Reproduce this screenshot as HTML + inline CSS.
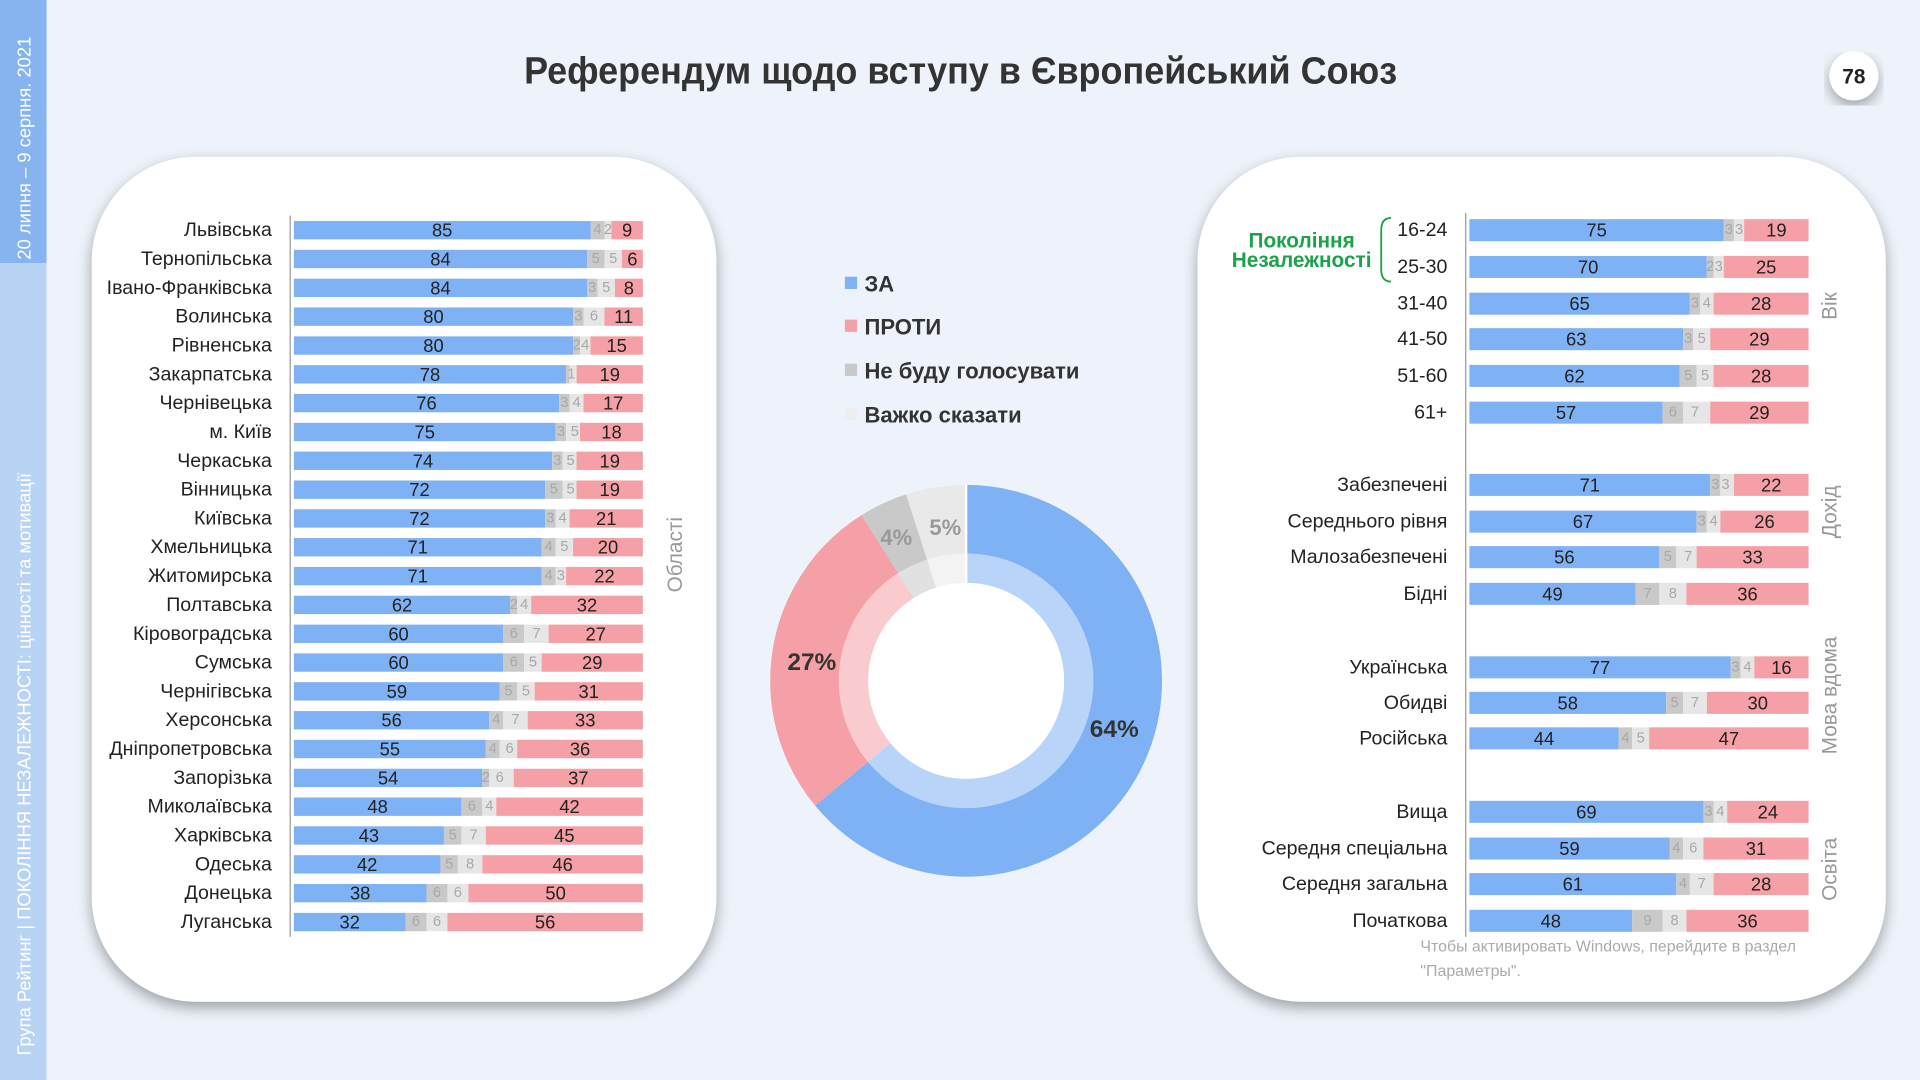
<!DOCTYPE html>
<html><head><meta charset="utf-8">
<style>
html,body{margin:0;padding:0;background:#eef3fb;}
svg{display:block;font-family:"Liberation Sans Narrow","Liberation Sans",sans-serif;}
.b{fill:#7fb2f5}.g{fill:#c9c9c9}.l{fill:#e6e6e6}.r{fill:#f5a0a6}
.L rect{y:-7.5px;height:15px}
.R rect{y:-9px;height:18px}
.t{font-size:15px;fill:#222;text-anchor:middle}
.s{font-size:12px;fill:#a8a8a8;text-anchor:middle}
.n{font-size:16px;fill:#222;text-anchor:end}
.L text{dominant-baseline:central}
.R text{dominant-baseline:central}
.v{font-size:17px;fill:#999;}
.lg{font-size:18px;font-weight:bold;fill:#333;font-family:"Liberation Sans",sans-serif}
</style></head><body>
<svg width="1920" height="1080" viewBox="0 0 1568 882" xmlns="http://www.w3.org/2000/svg">
<defs><filter id="sh" x="-10%" y="-10%" width="120%" height="120%"><feGaussianBlur in="SourceAlpha" stdDeviation="6"/><feOffset dx="0" dy="5"/><feComponentTransfer><feFuncA type="linear" slope="0.35"/></feComponentTransfer><feMerge><feMergeNode/><feMergeNode in="SourceGraphic"/></feMerge></filter></defs>
<rect width="1568" height="882" fill="#eef3fb"/>
<rect x="0" y="0" width="38" height="215" fill="#86b4ee"/>
<rect x="0" y="215" width="38" height="667" fill="#b9d3f4"/>
<text transform="translate(25,212) rotate(-90)" font-size="15" fill="#fff">20 липня – 9 серпня. 2021</text>
<text transform="translate(25,862) rotate(-90)" font-size="15" fill="#fff">Група Рейтинг | ПОКОЛІННЯ НЕЗАЛЕЖНОСТІ: цінності та мотивації</text>
<text x="428" y="68" textLength="713" lengthAdjust="spacingAndGlyphs" font-size="31" font-weight="bold" fill="#333">Референдум щодо вступу в Європейський Союз</text>
<circle cx="1514" cy="62" r="20" fill="#fff" filter="url(#sh)"/>
<text x="1514" y="68" text-anchor="middle" font-size="17" font-weight="bold" fill="#222" font-family="Liberation Sans">78</text>

<rect x="75" y="128" width="510" height="690" rx="85" fill="#fff" filter="url(#sh)"/>
<rect x="978" y="128" width="562" height="690" rx="85" fill="#fff" filter="url(#sh)"/>

<line x1="237" y1="176" x2="237" y2="765" stroke="#999" stroke-width="1"/>
<text transform="translate(557,453) rotate(-90)" class="v" text-anchor="middle">Області</text>

<svg x="240" y="0" width="285" height="882" overflow="visible" class="L">
<g transform="translate(0,188)"><rect width="85%" class="b"/><rect x="85%" width="4%" class="g"/><rect x="89%" width="2%" class="l"/><rect x="91%" width="9%" class="r"/><text x="42.5%" class="t">85</text><text x="87%" class="s">4</text><text x="90%" class="s">2</text><text x="95.5%" class="t">9</text><text x="-18" class="n">Львівська</text></g>
<g transform="translate(0,211.5)"><rect width="84%" class="b"/><rect x="84%" width="5%" class="g"/><rect x="89%" width="5%" class="l"/><rect x="94%" width="6%" class="r"/><text x="42%" class="t">84</text><text x="86.5%" class="s">5</text><text x="91.5%" class="s">5</text><text x="97%" class="t">6</text><text x="-18" class="n">Тернопільська</text></g>
<g transform="translate(0,235.1)"><rect width="84%" class="b"/><rect x="84%" width="3%" class="g"/><rect x="87%" width="5%" class="l"/><rect x="92%" width="8%" class="r"/><text x="42%" class="t">84</text><text x="85.5%" class="s">3</text><text x="89.5%" class="s">5</text><text x="96%" class="t">8</text><text x="-18" class="n">Івано-Франківська</text></g>
<g transform="translate(0,258.6)"><rect width="80%" class="b"/><rect x="80%" width="3%" class="g"/><rect x="83%" width="6%" class="l"/><rect x="89%" width="11%" class="r"/><text x="40%" class="t">80</text><text x="81.5%" class="s">3</text><text x="86%" class="s">6</text><text x="94.5%" class="t">11</text><text x="-18" class="n">Волинська</text></g>
<g transform="translate(0,282.2)"><rect width="80%" class="b"/><rect x="80%" width="2%" class="g"/><rect x="82%" width="4%" class="l"/><rect x="85%" width="15%" class="r"/><text x="40%" class="t">80</text><text x="81%" class="s">2</text><text x="83.5%" class="s">4</text><text x="92.5%" class="t">15</text><text x="-18" class="n">Рівненська</text></g>
<g transform="translate(0,305.7)"><rect width="78%" class="b"/><rect x="78%" width="1%" class="g"/><rect x="79%" width="2%" class="l"/><rect x="81%" width="19%" class="r"/><text x="39%" class="t">78</text><text x="79.5%" class="s">1</text><text x="90.5%" class="t">19</text><text x="-18" class="n">Закарпатська</text></g>
<g transform="translate(0,329.2)"><rect width="76%" class="b"/><rect x="76%" width="3%" class="g"/><rect x="79%" width="4%" class="l"/><rect x="83%" width="17%" class="r"/><text x="38%" class="t">76</text><text x="77.5%" class="s">3</text><text x="81%" class="s">4</text><text x="91.5%" class="t">17</text><text x="-18" class="n">Чернівецька</text></g>
<g transform="translate(0,352.8)"><rect width="75%" class="b"/><rect x="75%" width="3%" class="g"/><rect x="78%" width="5%" class="l"/><rect x="82%" width="18%" class="r"/><text x="37.5%" class="t">75</text><text x="76.5%" class="s">3</text><text x="80.5%" class="s">5</text><text x="91%" class="t">18</text><text x="-18" class="n">м. Київ</text></g>
<g transform="translate(0,376.3)"><rect width="74%" class="b"/><rect x="74%" width="3%" class="g"/><rect x="77%" width="5%" class="l"/><rect x="81%" width="19%" class="r"/><text x="37%" class="t">74</text><text x="75.5%" class="s">3</text><text x="79.3%" class="s">5</text><text x="90.5%" class="t">19</text><text x="-18" class="n">Черкаська</text></g>
<g transform="translate(0,399.9)"><rect width="72%" class="b"/><rect x="72%" width="5%" class="g"/><rect x="77%" width="5%" class="l"/><rect x="81%" width="19%" class="r"/><text x="36%" class="t">72</text><text x="74.5%" class="s">5</text><text x="79.3%" class="s">5</text><text x="90.5%" class="t">19</text><text x="-18" class="n">Вінницька</text></g>
<g transform="translate(0,423.4)"><rect width="72%" class="b"/><rect x="72%" width="3%" class="g"/><rect x="75%" width="4%" class="l"/><rect x="79%" width="21%" class="r"/><text x="36%" class="t">72</text><text x="73.5%" class="s">3</text><text x="77%" class="s">4</text><text x="89.5%" class="t">21</text><text x="-18" class="n">Київська</text></g>
<g transform="translate(0,446.9)"><rect width="71%" class="b"/><rect x="71%" width="4%" class="g"/><rect x="75%" width="5%" class="l"/><rect x="80%" width="20%" class="r"/><text x="35.5%" class="t">71</text><text x="73%" class="s">4</text><text x="77.5%" class="s">5</text><text x="90%" class="t">20</text><text x="-18" class="n">Хмельницька</text></g>
<g transform="translate(0,470.5)"><rect width="71%" class="b"/><rect x="71%" width="4%" class="g"/><rect x="75%" width="3%" class="l"/><rect x="78%" width="22%" class="r"/><text x="35.5%" class="t">71</text><text x="73%" class="s">4</text><text x="76.5%" class="s">3</text><text x="89%" class="t">22</text><text x="-18" class="n">Житомирська</text></g>
<g transform="translate(0,494)"><rect width="62%" class="b"/><rect x="62%" width="2%" class="g"/><rect x="64%" width="4%" class="l"/><rect x="68%" width="32%" class="r"/><text x="31%" class="t">62</text><text x="63%" class="s">2</text><text x="66%" class="s">4</text><text x="84%" class="t">32</text><text x="-18" class="n">Полтавська</text></g>
<g transform="translate(0,517.6)"><rect width="60%" class="b"/><rect x="60%" width="6%" class="g"/><rect x="66%" width="7%" class="l"/><rect x="73%" width="27%" class="r"/><text x="30%" class="t">60</text><text x="63%" class="s">6</text><text x="69.5%" class="s">7</text><text x="86.5%" class="t">27</text><text x="-18" class="n">Кіровоградська</text></g>
<g transform="translate(0,541.1)"><rect width="60%" class="b"/><rect x="60%" width="6%" class="g"/><rect x="66%" width="5%" class="l"/><rect x="71%" width="29%" class="r"/><text x="30%" class="t">60</text><text x="63%" class="s">6</text><text x="68.5%" class="s">5</text><text x="85.5%" class="t">29</text><text x="-18" class="n">Сумська</text></g>
<g transform="translate(0,564.6)"><rect width="59%" class="b"/><rect x="59%" width="5%" class="g"/><rect x="64%" width="5%" class="l"/><rect x="69%" width="31%" class="r"/><text x="29.5%" class="t">59</text><text x="61.5%" class="s">5</text><text x="66.5%" class="s">5</text><text x="84.5%" class="t">31</text><text x="-18" class="n">Чернігівська</text></g>
<g transform="translate(0,588.2)"><rect width="56%" class="b"/><rect x="56%" width="4%" class="g"/><rect x="60%" width="7%" class="l"/><rect x="67%" width="33%" class="r"/><text x="28%" class="t">56</text><text x="58%" class="s">4</text><text x="63.5%" class="s">7</text><text x="83.5%" class="t">33</text><text x="-18" class="n">Херсонська</text></g>
<g transform="translate(0,611.7)"><rect width="55%" class="b"/><rect x="55%" width="4%" class="g"/><rect x="59%" width="6%" class="l"/><rect x="64%" width="36%" class="r"/><text x="27.5%" class="t">55</text><text x="57%" class="s">4</text><text x="61.8%" class="s">6</text><text x="82%" class="t">36</text><text x="-18" class="n">Дніпропетровська</text></g>
<g transform="translate(0,635.3)"><rect width="54%" class="b"/><rect x="54%" width="2%" class="g"/><rect x="56%" width="7%" class="l"/><rect x="63%" width="37%" class="r"/><text x="27%" class="t">54</text><text x="55%" class="s">2</text><text x="59%" class="s">6</text><text x="81.5%" class="t">37</text><text x="-18" class="n">Запорізька</text></g>
<g transform="translate(0,658.8)"><rect width="48%" class="b"/><rect x="48%" width="6%" class="g"/><rect x="54%" width="4%" class="l"/><rect x="58%" width="42%" class="r"/><text x="24%" class="t">48</text><text x="51%" class="s">6</text><text x="56%" class="s">4</text><text x="79%" class="t">42</text><text x="-18" class="n">Миколаївська</text></g>
<g transform="translate(0,682.3)"><rect width="43%" class="b"/><rect x="43%" width="5%" class="g"/><rect x="48%" width="7%" class="l"/><rect x="55%" width="45%" class="r"/><text x="21.5%" class="t">43</text><text x="45.5%" class="s">5</text><text x="51.5%" class="s">7</text><text x="77.5%" class="t">45</text><text x="-18" class="n">Харківська</text></g>
<g transform="translate(0,705.9)"><rect width="42%" class="b"/><rect x="42%" width="5%" class="g"/><rect x="47%" width="7%" class="l"/><rect x="54%" width="46%" class="r"/><text x="21%" class="t">42</text><text x="44.5%" class="s">5</text><text x="50.5%" class="s">8</text><text x="77%" class="t">46</text><text x="-18" class="n">Одеська</text></g>
<g transform="translate(0,729.4)"><rect width="38%" class="b"/><rect x="38%" width="6%" class="g"/><rect x="44%" width="6%" class="l"/><rect x="50%" width="50%" class="r"/><text x="19%" class="t">38</text><text x="41%" class="s">6</text><text x="47%" class="s">6</text><text x="75%" class="t">50</text><text x="-18" class="n">Донецька</text></g>
<g transform="translate(0,753)"><rect width="32%" class="b"/><rect x="32%" width="6%" class="g"/><rect x="38%" width="6%" class="l"/><rect x="44%" width="56%" class="r"/><text x="16%" class="t">32</text><text x="35%" class="s">6</text><text x="41%" class="s">6</text><text x="72%" class="t">56</text><text x="-18" class="n">Луганська</text></g>
</svg>

<rect x="690" y="226" width="10" height="10" class="b"/><text x="706" y="238" class="lg">ЗА</text>
<rect x="690" y="261" width="10" height="10" class="r"/><text x="706" y="273" class="lg">ПРОТИ</text>
<rect x="690" y="297" width="10" height="10" class="g"/><text x="706" y="309" class="lg">Не буду голосувати</text>
<rect x="690" y="333" width="10" height="10" fill="#eee"/><text x="706" y="345" class="lg">Важко сказати</text>

<g transform="rotate(-90 789 556)" fill="none" stroke-width="80">
<circle cx="789" cy="556" r="120" stroke="#7fb2f5" stroke-dasharray="482.5 1000"/>
<circle cx="789" cy="556" r="120" stroke="#f5a0a6" stroke-dasharray="203.6 1000" stroke-dashoffset="-482.5"/>
<circle cx="789" cy="556" r="120" stroke="#c9c9c9" stroke-dasharray="30.2 1000" stroke-dashoffset="-686.1"/>
<circle cx="789" cy="556" r="120" stroke="#e9e9e9" stroke-dasharray="37.7 1000" stroke-dashoffset="-716.3"/>
</g>
<circle cx="789" cy="556" r="104" fill="#fff" opacity="0.45"/>
<circle cx="789" cy="556" r="80" fill="#fff"/>
<line x1="789" y1="396" x2="789" y2="476" stroke="#fff" stroke-width="2"/>
<text x="910" y="602" font-size="20" font-weight="bold" fill="#333" text-anchor="middle">64%</text>
<text x="663" y="547" font-size="20" font-weight="bold" fill="#333" text-anchor="middle">27%</text>
<text x="732" y="445" font-size="18" font-weight="bold" fill="#999" text-anchor="middle">4%</text>
<text x="772" y="437" font-size="18" font-weight="bold" fill="#999" text-anchor="middle">5%</text>

<line x1="1197" y1="174" x2="1197" y2="765" stroke="#999" stroke-width="1"/>
<text x="1063" y="202" font-size="17" font-weight="bold" fill="#1aa34a" text-anchor="middle">Покоління</text>
<text x="1063" y="218" font-size="17" font-weight="bold" fill="#1aa34a" text-anchor="middle">Незалежності</text>
<path d="M1136 178 Q1128 178 1128 188 L1128 220 Q1128 230 1136 230" fill="none" stroke="#1aa34a" stroke-width="1.5"/>
<text transform="translate(1500,250) rotate(-90)" class="v" text-anchor="middle">Вік</text>
<text transform="translate(1500,418) rotate(-90)" class="v" text-anchor="middle">Дохід</text>
<text transform="translate(1500,568) rotate(-90)" class="v" text-anchor="middle">Мова вдома</text>
<text transform="translate(1500,710) rotate(-90)" class="v" text-anchor="middle">Освіта</text>

<svg x="1200" y="0" width="277" height="882" overflow="visible" class="R">
<g transform="translate(0,188)"><rect width="75%" class="b"/><rect x="75%" width="3%" class="g"/><rect x="78%" width="3%" class="l"/><rect x="81%" width="19%" class="r"/><text x="37.5%" class="t">75</text><text x="76.5%" class="s">3</text><text x="79.5%" class="s">3</text><text x="90.5%" class="t">19</text><text x="-18" class="n">16-24</text></g>
<g transform="translate(0,218)"><rect width="70%" class="b"/><rect x="70%" width="2%" class="g"/><rect x="72%" width="3%" class="l"/><rect x="75%" width="25%" class="r"/><text x="35%" class="t">70</text><text x="71%" class="s">2</text><text x="73.5%" class="s">3</text><text x="87.5%" class="t">25</text><text x="-18" class="n">25-30</text></g>
<g transform="translate(0,248)"><rect width="65%" class="b"/><rect x="65%" width="3%" class="g"/><rect x="68%" width="4%" class="l"/><rect x="72%" width="28%" class="r"/><text x="32.5%" class="t">65</text><text x="66.5%" class="s">3</text><text x="70%" class="s">4</text><text x="86%" class="t">28</text><text x="-18" class="n">31-40</text></g>
<g transform="translate(0,277)"><rect width="63%" class="b"/><rect x="63%" width="3%" class="g"/><rect x="66%" width="5%" class="l"/><rect x="71%" width="29%" class="r"/><text x="31.5%" class="t">63</text><text x="64.5%" class="s">3</text><text x="68.5%" class="s">5</text><text x="85.5%" class="t">29</text><text x="-18" class="n">41-50</text></g>
<g transform="translate(0,307)"><rect width="62%" class="b"/><rect x="62%" width="5%" class="g"/><rect x="67%" width="5%" class="l"/><rect x="72%" width="28%" class="r"/><text x="31%" class="t">62</text><text x="64.5%" class="s">5</text><text x="69.5%" class="s">5</text><text x="86%" class="t">28</text><text x="-18" class="n">51-60</text></g>
<g transform="translate(0,337)"><rect width="57%" class="b"/><rect x="57%" width="6%" class="g"/><rect x="63%" width="8%" class="l"/><rect x="71%" width="29%" class="r"/><text x="28.5%" class="t">57</text><text x="60%" class="s">6</text><text x="66.5%" class="s">7</text><text x="85.5%" class="t">29</text><text x="-18" class="n">61+</text></g>
<g transform="translate(0,396)"><rect width="71%" class="b"/><rect x="71%" width="3%" class="g"/><rect x="74%" width="4%" class="l"/><rect x="78%" width="22%" class="r"/><text x="35.5%" class="t">71</text><text x="72.5%" class="s">3</text><text x="75.5%" class="s">3</text><text x="89%" class="t">22</text><text x="-18" class="n">Забезпечені</text></g>
<g transform="translate(0,426)"><rect width="67%" class="b"/><rect x="67%" width="3%" class="g"/><rect x="70%" width="4%" class="l"/><rect x="74%" width="26%" class="r"/><text x="33.5%" class="t">67</text><text x="68.5%" class="s">3</text><text x="72%" class="s">4</text><text x="87%" class="t">26</text><text x="-18" class="n">Середнього рівня</text></g>
<g transform="translate(0,455)"><rect width="56%" class="b"/><rect x="56%" width="5%" class="g"/><rect x="61%" width="7%" class="l"/><rect x="67%" width="33%" class="r"/><text x="28%" class="t">56</text><text x="58.5%" class="s">5</text><text x="64.5%" class="s">7</text><text x="83.5%" class="t">33</text><text x="-18" class="n">Малозабезпечені</text></g>
<g transform="translate(0,485)"><rect width="49%" class="b"/><rect x="49%" width="7%" class="g"/><rect x="56%" width="8%" class="l"/><rect x="64%" width="36%" class="r"/><text x="24.5%" class="t">49</text><text x="52.5%" class="s">7</text><text x="60%" class="s">8</text><text x="82%" class="t">36</text><text x="-18" class="n">Бідні</text></g>
<g transform="translate(0,545)"><rect width="77%" class="b"/><rect x="77%" width="3%" class="g"/><rect x="80%" width="4%" class="l"/><rect x="84%" width="16%" class="r"/><text x="38.5%" class="t">77</text><text x="78.5%" class="s">3</text><text x="82%" class="s">4</text><text x="92%" class="t">16</text><text x="-18" class="n">Українська</text></g>
<g transform="translate(0,574)"><rect width="58%" class="b"/><rect x="58%" width="5%" class="g"/><rect x="63%" width="7%" class="l"/><rect x="70%" width="30%" class="r"/><text x="29%" class="t">58</text><text x="60.5%" class="s">5</text><text x="66.5%" class="s">7</text><text x="85%" class="t">30</text><text x="-18" class="n">Обидві</text></g>
<g transform="translate(0,603)"><rect width="44%" class="b"/><rect x="44%" width="4%" class="g"/><rect x="48%" width="5%" class="l"/><rect x="53%" width="47%" class="r"/><text x="22%" class="t">44</text><text x="46%" class="s">4</text><text x="50.5%" class="s">5</text><text x="76.5%" class="t">47</text><text x="-18" class="n">Російська</text></g>
<g transform="translate(0,663)"><rect width="69%" class="b"/><rect x="69%" width="3%" class="g"/><rect x="72%" width="4%" class="l"/><rect x="76%" width="24%" class="r"/><text x="34.5%" class="t">69</text><text x="70.5%" class="s">3</text><text x="74%" class="s">4</text><text x="88%" class="t">24</text><text x="-18" class="n">Вища</text></g>
<g transform="translate(0,693)"><rect width="59%" class="b"/><rect x="59%" width="4%" class="g"/><rect x="63%" width="6%" class="l"/><rect x="69%" width="31%" class="r"/><text x="29.5%" class="t">59</text><text x="61%" class="s">4</text><text x="66%" class="s">6</text><text x="84.5%" class="t">31</text><text x="-18" class="n">Середня спеціальна</text></g>
<g transform="translate(0,722)"><rect width="61%" class="b"/><rect x="61%" width="4%" class="g"/><rect x="65%" width="7%" class="l"/><rect x="72%" width="28%" class="r"/><text x="30.5%" class="t">61</text><text x="63%" class="s">4</text><text x="68.5%" class="s">7</text><text x="86%" class="t">28</text><text x="-18" class="n">Середня загальна</text></g>
<g transform="translate(0,752)"><rect width="48%" class="b"/><rect x="48%" width="9%" class="g"/><rect x="57%" width="7%" class="l"/><rect x="64%" width="36%" class="r"/><text x="24%" class="t">48</text><text x="52.5%" class="s">9</text><text x="60.5%" class="s">8</text><text x="82%" class="t">36</text><text x="-18" class="n">Початкова</text></g>
</svg>

<text x="1160" y="777" font-size="13" fill="#aaa">Чтобы активировать Windows, перейдите в раздел</text>
<text x="1160" y="797" font-size="13" fill="#aaa">"Параметры".</text>
</svg>
</body></html>
